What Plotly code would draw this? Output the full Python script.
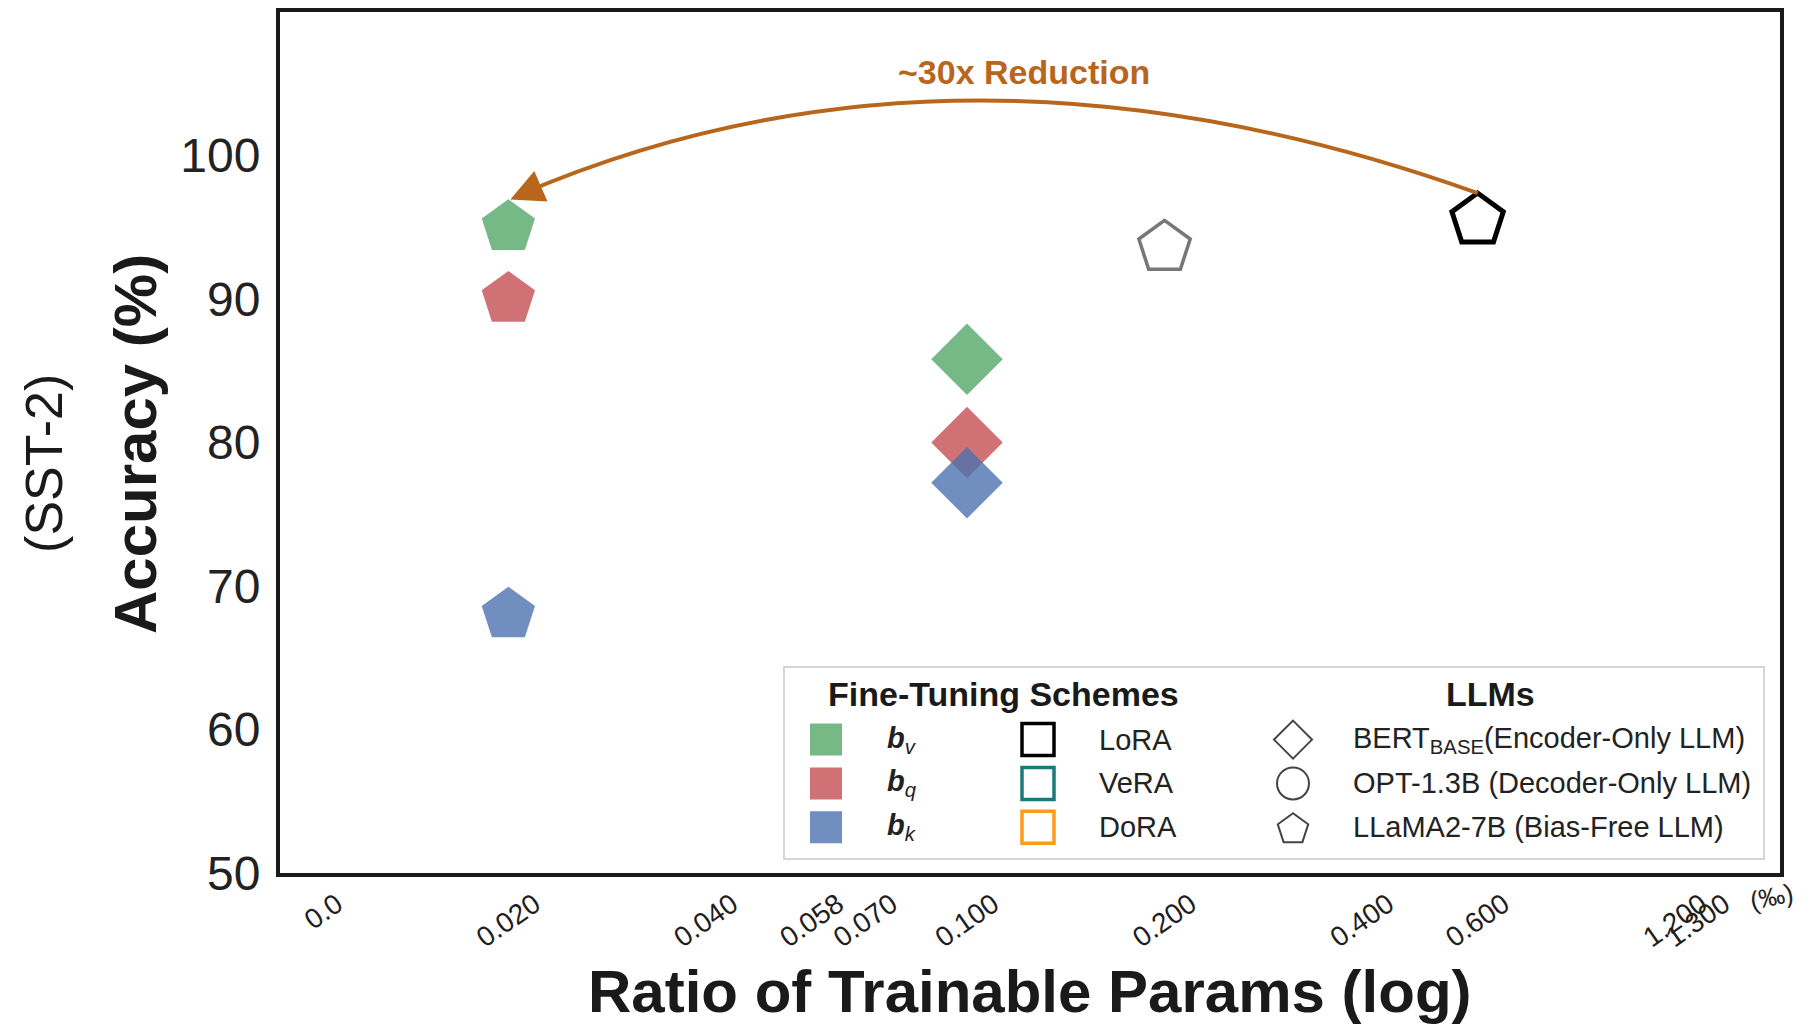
import math
import plotly.graph_objects as go

# ---------------- data ----------------
# bias-only fine-tuning on LLaMA2-7B (pentagons) and BERT-base (diamonds)
scheme_names = ["b_v", "b_q", "b_k"]
llama_bias_ratio = [0.020, 0.020, 0.020]          # trainable params (‰)
llama_bias_acc = [95.0, 90.0, 68.0]               # SST-2 accuracy (%)
bert_bias_ratio = [0.100, 0.100, 0.100]
bert_bias_acc = [85.8, 80.0, 77.2]

# full-adapter baselines on LLaMA2-7B
baseline_ratio = [0.200]
baseline_acc = [93.6]
lora_ratio = [0.600]
lora_acc = [95.5]

# x-axis ticks (log scale; "0.0" sits one doubling below 0.020)
x_tick_vals = [0.01, 0.02, 0.04, 0.058, 0.07, 0.1, 0.2, 0.4, 0.6, 1.2, 1.3]
x_tick_text = ["0.0", "0.020", "0.040", "0.058", "0.070", "0.100",
               "0.200", "0.400", "0.600", "1.200", "1.300"]
y_tick_vals = [50, 60, 70, 80, 90, 100]

# ---------------- styling ----------------
FONT = "Liberation Sans"
W, H = 1808, 1024
M_L, M_R, M_T, M_B = 280, 28, 8, 151
PW, PH = W - M_L - M_R, H - M_T - M_B
X_RANGE = [-2.047, 0.239]
Y_RANGE = [50, 110]

scheme_colors = ["rgba(85,168,104,0.8)", "rgba(196,78,82,0.8)", "rgba(76,114,176,0.8)"]
ARROW = "#b8661c"


def data_to_px(xv, yv):
    fx = (math.log10(xv) - X_RANGE[0]) / (X_RANGE[1] - X_RANGE[0])
    fy = (yv - Y_RANGE[0]) / (Y_RANGE[1] - Y_RANGE[0])
    return M_L + fx * PW, M_T + (1 - fy) * PH


def px_paper(x, y):
    return (x - M_L) / PW, (M_T + PH - y) / PH


fig = go.Figure()

# LLaMA2-7B bias tuning (filled pentagons)
for i in range(3):
    fig.add_trace(go.Scatter(
        x=[llama_bias_ratio[i]], y=[llama_bias_acc[i]], mode="markers",
        marker=dict(symbol="pentagon", size=56, color=scheme_colors[i], line=dict(width=0)),
        showlegend=False, name=scheme_names[i]))

# BERT-base bias tuning (filled diamonds)
for i in range(3):
    fig.add_trace(go.Scatter(
        x=[bert_bias_ratio[i]], y=[bert_bias_acc[i]], mode="markers",
        marker=dict(symbol="diamond", size=55, color=scheme_colors[i], line=dict(width=0)),
        showlegend=False, name=scheme_names[i]))

# adapter baselines (open pentagons)
fig.add_trace(go.Scatter(
    x=baseline_ratio, y=baseline_acc, mode="markers",
    marker=dict(symbol="pentagon", size=54, color="rgba(0,0,0,0)",
                line=dict(width=3.5, color="#777777")),
    showlegend=False))
fig.add_trace(go.Scatter(
    x=lora_ratio, y=lora_acc, mode="markers",
    marker=dict(symbol="pentagon", size=54, color="rgba(0,0,0,0)",
                line=dict(width=5, color="#000000")),
    showlegend=False))

shapes = []
annotations = []


def add_text(x, y, text, size=29, anchor="left", color="#222222", angle=0, bold=False):
    px, py = px_paper(x, y)
    annotations.append(dict(x=px, y=py, xref="paper", yref="paper",
                            text=f"<b>{text}</b>" if bold else text,
                            xanchor=anchor, yanchor="middle", showarrow=False,
                            textangle=angle,
                            font=dict(family=FONT, size=size, color=color)))


# curved "reduction" arrow from LoRA to b_v
sx, sy = data_to_px(lora_ratio[0], lora_acc[0])
ex, ey = data_to_px(llama_bias_ratio[0], llama_bias_acc[0])
sy -= 27
ey -= 28
cx, cy = (sx + ex) / 2 - 35, (sy + ey) / 2 - 190
p0, p1, p2 = px_paper(sx, sy), px_paper(cx, cy), px_paper(ex + 12, ey - 5)
shapes.append(dict(
    type="path", xref="paper", yref="paper",
    path=f"M{p0[0]},{p0[1]} Q{p1[0]},{p1[1]} {p2[0]},{p2[1]}",
    line=dict(color=ARROW, width=4)))
tip = px_paper(ex + 2, ey)
annotations.append(dict(
    x=tip[0], y=tip[1], xref="paper", yref="paper", text="", showarrow=True,
    ax=30, ay=-13, arrowhead=2, arrowsize=1.9, arrowwidth=3.5, arrowcolor=ARROW))
add_text(1024, 68, "~30x Reduction", size=34, anchor="center", color=ARROW, bold=True)

# axis titles and unit
add_text(1030, 992, "Ratio of Trainable Params (log)", size=60, anchor="center",
         color="#1a1a1a", bold=True)
add_text(136, 442, "Accuracy (%)", size=60, anchor="center", color="#1a1a1a",
         angle=-90, bold=True)
add_text(44, 462, "(SST-2)", size=52, anchor="center", color="#1a1a1a", angle=-90)
add_text(1771, 897, "(‰)", size=26, anchor="center", angle=-12)

# ---------------- custom legend ----------------
lx0, ly0 = px_paper(784, 859)
lx1, ly1 = px_paper(1764, 666)
shapes.append(dict(type="rect", xref="paper", yref="paper", x0=lx0, y0=ly0, x1=lx1, y1=ly1,
                   line=dict(color="#d6d6d6", width=2), fillcolor="rgba(255,255,255,0.85)"))


def add_glyph(x, y, kind, **style):
    px, py = px_paper(x, y)
    base = dict(xref="paper", yref="paper", xsizemode="pixel", ysizemode="pixel",
                xanchor=px, yanchor=py)
    if kind == "rect":
        base.update(type="rect", x0=-16, x1=16, y0=-16, y1=16)
    elif kind == "circle":
        base.update(type="circle", x0=-16, x1=16, y0=-16, y1=16)
    elif kind == "diamond":
        base.update(type="path", path="M0,19 L19,0 L0,-19 L-19,0 Z")
    elif kind == "pentagon":
        r = 16
        pts = []
        for k in range(5):
            a = math.radians(90 + 72 * k)
            pts.append((r * math.cos(a), r * math.sin(a) - 2))
        base.update(type="path",
                    path="M" + " L".join(f"{px_:.2f},{py_:.2f}" for px_, py_ in pts) + " Z")
    base.update(style)
    shapes.append(base)


add_text(1003, 693, "Fine-Tuning Schemes", size=34, anchor="center", color="#1a1a1a", bold=True)
add_text(1490, 693, "LLMs", size=34, anchor="center", color="#1a1a1a", bold=True)

row_y = [739, 783, 827]
scheme_labels = ["<b><i>b</i></b><sub><i>v</i></sub>",
                 "<b><i>b</i></b><sub><i>q</i></sub>",
                 "<b><i>b</i></b><sub><i>k</i></sub>"]
adapter_labels = ["LoRA", "VeRA", "DoRA"]
adapter_colors = ["#000000", "#1b7a78", "#ff9a1a"]
llm_labels = ["BERT<sub>BASE</sub>(Encoder-Only LLM)",
              "OPT-1.3B (Decoder-Only LLM)",
              "LLaMA2-7B (Bias-Free LLM)"]
llm_glyphs = ["diamond", "circle", "pentagon"]

for i, yy in enumerate(row_y):
    add_glyph(826, yy, "rect", fillcolor=scheme_colors[i], line=dict(width=0))
    add_text(885, yy, scheme_labels[i], size=29)
    add_glyph(1038, yy, "rect", fillcolor="rgba(0,0,0,0)",
              line=dict(color=adapter_colors[i], width=3.5))
    add_text(1097, yy, adapter_labels[i], size=29)
    add_glyph(1293, yy, llm_glyphs[i], fillcolor="rgba(0,0,0,0)",
              line=dict(color="#444444", width=2))
    add_text(1351, yy, llm_labels[i], size=29)

fig.update_layout(
    width=W, height=H,
    margin=dict(l=M_L, r=M_R, t=M_T, b=M_B),
    paper_bgcolor="white", plot_bgcolor="white",
    font=dict(family=FONT, color="#222222"),
    shapes=shapes, annotations=annotations,
    showlegend=False,
    xaxis=dict(type="log", range=X_RANGE, tickvals=x_tick_vals, ticktext=x_tick_text,
               tickangle=-35, tickfont=dict(family=FONT, size=28, color="#1e1e1e"),
               ticks="", showgrid=False, zeroline=False,
               showline=True, mirror=True, linewidth=4, linecolor="#1a1a1a",
               ticklabelshift=26, ticklabelstandoff=0),
    yaxis=dict(range=Y_RANGE, tickvals=y_tick_vals,
               tickfont=dict(family=FONT, size=48, color="#222222"),
               ticks="", showgrid=False, zeroline=False,
               showline=True, mirror=True, linewidth=4, linecolor="#1a1a1a",
               ticklabelstandoff=6),
)

fig.write_html("out.html")
